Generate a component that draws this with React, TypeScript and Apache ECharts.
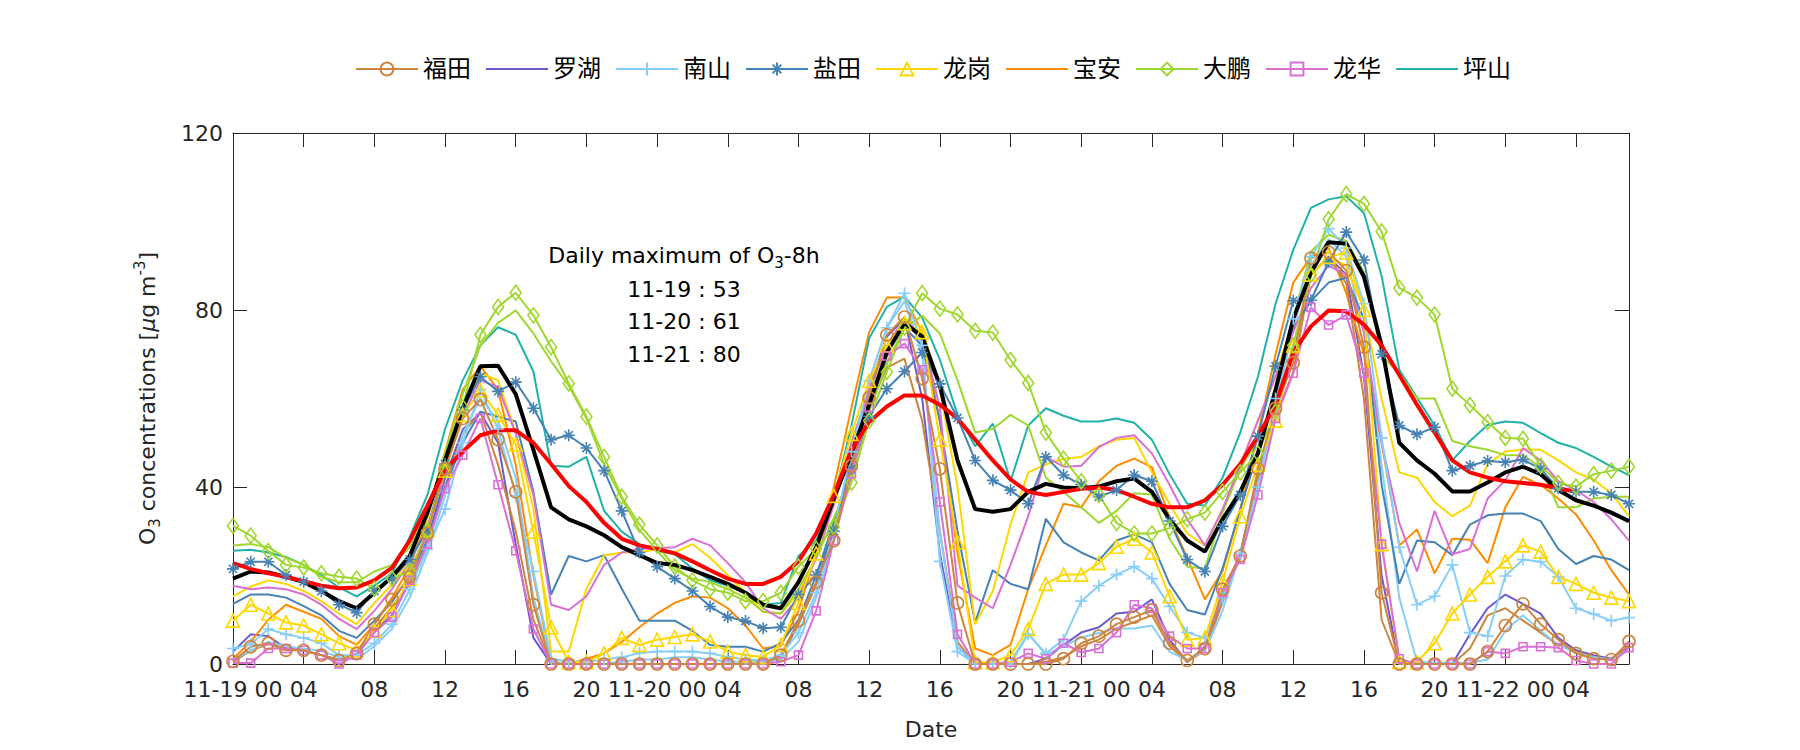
import React, { useEffect, useRef } from 'react';
import * as echarts from 'echarts';

const stations = ['福田', '罗湖', '南山', '盐田', '龙岗', '宝安', '大鹏', '龙华', '坪山'];
const xTickLabels = ['11-19 00', '04', '08', '12', '16', '20', '11-20 00', '04', '08', '12', '16', '20', '11-21 00', '04', '08', '12', '16', '20', '11-22 00', '04'];
const dailyMaxDates = ['11-19', '11-20', '11-21'];
const dailyMaxValues = [53, 61, 80];

const futianM = [0.6, 3.9, 4.7, 3.1, 3.1, 2, 0.8, 2.4, 9, 14.6,
  19.7, 29.5, 44.1, 55.5, 59.8, 50.7, 38.9, 13.4, 0, 0,
  0, 0, 0, 0, 0, 0, 0, 0, 0, 0,
  0, 2, 9.8, 18.5, 27.9, 44.8, 60.2, 74.4, 78.4, 64.5,
  44.1, 13.8, 0, 0, 0, 0, 0, 1.2, 4.7, 6.3,
  9, 10.6, 12.2, 4.7, 0.8, 3.5, 16.9, 24.4, 44.1, 57.8,
  68.1, 91.7, 93.1, 88.9, 71.6, 16.1, 0, 0, 0, 0,
  0, 2.8, 8.7, 13.6, 9, 5.5, 2.4, 1.2, 1, 5.1];
const futianP = [0.5, 3, 4.5, 4, 3, 2, 1, 2, 8, 13,
  18, 27, 40, 52, 57, 45, 30, 10, 0, 0,
  0, 0, 0, 0, 0, 0, 0, 0, 0, 0,
  0, 1.5, 9, 18, 28, 45, 58, 67, 69, 55,
  30, 5, 0, 0, 0, 0, 0.5, 1.5, 4, 5.5,
  8, 9.5, 11, 4, 0.5, 3, 14, 25, 42, 56,
  66, 88, 92, 86, 60, 10, 0, 0, 0, 0,
  3.5, 11, 12.6, 9.8, 7.1, 4.3, 2.8, 1.6, 0.8, 4.3];
const luohu = [2.8, 6.7, 6.3, 3.5, 3, 2, 0.8, 2, 7.5, 11,
  18.5, 28, 42, 53, 56.7, 50, 27, 5.9, 0, 0,
  0, 0, 0, 0, 0, 0, 0, 0, 0, 0,
  0, 1.5, 9, 18, 30, 46, 62, 74, 78, 60,
  25, 4, 0, 0, 0, 0, 1.2, 4.3, 7.1, 8.3,
  11.4, 11.8, 14.6, 5.5, 0.4, 3.9, 15, 25, 42, 58,
  70, 88, 92, 88, 65, 20, 0, 0, 0, 0,
  6.7, 12.6, 15.7, 13.6, 11.4, 5.9, 3.1, 2, 1.2, 3.9];
const nanshanM = [3.5, 4.5, 7.9, 6.7, 5.9, 4.7, 2, 2, 4.7, 9,
  16.9, 26, 35, 50, 62, 53.1, 38, 20.9, 1.2, 0.5,
  0.5, 1, 1.5, 2.5, 2.8, 2.8, 2.8, 2.4, 1.6, 1,
  0.8, 2, 7.1, 16.1, 30, 48, 64, 76, 83.8, 72,
  23.2, 2.8, 0, 0, 0, 6.7, 2.4, 5.5, 14.2, 17.7,
  20.2, 22, 19.3, 13, 7.1, 5.9, 15, 25, 40, 60,
  78, 92, 98.4, 94, 81.4, 51.1, 26.4, 13.4, 15.3, 22.4,
  7.1, 6.3, 19.9, 23.6, 23.1, 19.7, 12.6, 11.3, 9.8, 10.5];
const nanshanP = [1, 3, 5, 4, 3.5, 3, 1.5, 1, 4, 8,
  15, 25, 38, 52, 60, 55, 42, 15, 0.5, 0,
  0, 0, 0.5, 1, 1, 1.5, 1.5, 1, 0.5, 0.5,
  0.5, 1, 5, 15, 28, 46, 64, 76, 82, 70,
  30, 4, 0, 0, 0.5, 7, 2, 4, 6, 7,
  8, 8, 8.7, 2.8, 0.8, 3, 12, 25, 40, 58,
  76, 90, 96, 92, 75, 45, 15, 0.5, 0.3, 0.3,
  0.3, 1, 7.5, 11, 7.5, 4.3, 2.5, 1.5, 1, 3];
const yantianM = [21.5, 23.1, 23.1, 20.1, 18.6, 16.5, 13.4, 11.6, 16.5, 19.3,
  23.6, 30.3, 45.2, 57.4, 64.9, 61.6, 63.7, 57.8, 50.7, 51.7,
  48.8, 43.7, 34.6, 25.2, 22, 19.3, 16.5, 13, 10.6, 9.7,
  8.1, 8.3, 15.7, 20.1, 30, 44, 56, 62.2, 66.1, 70.4,
  63.3, 55.6, 46, 41.5, 39.3, 36.2, 46.8, 42.7, 40.5, 37.8,
  39.3, 42.7, 41.3, 32.3, 23.6, 20.9, 31.1, 38.2, 51.5, 67.3,
  82.1, 82.2, 90.9, 97.6, 91.3, 70, 53.9, 51.9, 53.5, 43.7,
  44.8, 45.9, 45.6, 46.2, 44.1, 39.7, 38.9, 38.9, 38.2, 36.2];
const yantianP = [13.6, 15.7, 15.7, 15, 13.1, 11, 7.5, 5.9, 9.8, 14,
  20, 28, 40, 50, 57, 55.9, 54.8, 38.9, 15.7, 24.4,
  23.2, 24.6, 17, 9.8, 9.8, 9.8, 7.5, 4.3, 3.9, 3.9,
  2.8, 4.7, 10, 20, 32, 45, 58, 68, 76, 72,
  55, 30, 9.4, 21.2, 18.1, 16.9, 32.8, 27.5, 25.2, 23.4,
  27.9, 29.3, 27.5, 18.1, 12.2, 11.2, 21.6, 35, 48, 62,
  76, 82, 86.2, 87.3, 78, 40.5, 18.1, 27.9, 27.5, 24.6,
  31.5, 33.6, 34, 34, 32.3, 26, 22.6, 24.4, 23.6, 21.2];
const longgangM = [9.8, 13.4, 11.4, 9.4, 8.7, 6.7, 4.7, 3.1, 7.5, 12.2,
  19.3, 30.3, 43.7, 56.3, 61.8, 56.3, 49.6, 29.9, 8.3, 0.4,
  0.4, 2.4, 5.9, 4.3, 5.5, 6.1, 6.7, 5.1, 2.8, 2,
  1.6, 4.3, 13.8, 25, 38, 52, 64, 72, 77, 75,
  50.7, 27.5, 0.4, 0.4, 2, 7.9, 18.1, 20.2, 20.2, 22.8,
  26.5, 28.3, 25.2, 15.3, 5.5, 5.9, 18.5, 33.4, 45, 55,
  72, 88, 92, 93, 80, 27.1, 0.5, 0.4, 4.7, 11.4,
  15.7, 19.7, 23.2, 26.8, 25.4, 19.7, 18.1, 16.1, 15, 14.2];
const longgangP = [15.3, 17.5, 18.9, 18.1, 16.5, 14.2, 11.4, 9, 13.8, 18,
  24, 33, 46, 58, 65.7, 64.1, 52.3, 35, 2.8, 2.8,
  17, 24.5, 25.2, 25.2, 26, 25.2, 27.1, 24, 20.1, 16.1,
  11.8, 11.4, 16, 24, 36, 50, 62, 72, 78, 76,
  62, 40, 9, 16.5, 31.5, 43.3, 45.1, 46.4, 46.8, 49.2,
  50.7, 51.1, 43.3, 36.2, 29.5, 26.8, 34.6, 45, 55, 65,
  78, 88, 92, 90, 80, 60, 43.3, 42.1, 36.6, 33.4,
  35.8, 45.2, 48, 48.5, 48.4, 46, 43.3, 41.7, 38.6, 33.4];
const baoan = [1.2, 5, 10, 13.4, 11.8, 10.2, 6.3, 4.3, 9, 15,
  22, 33, 48, 62, 67.3, 62, 45, 20, 0.5, 0,
  1.2, 2.4, 5, 8.3, 11.4, 13.8, 15.3, 15, 12.6, 8.7,
  3.5, 4, 12, 25, 40, 58, 75, 82.8, 82.8, 75,
  55, 25, 3.5, 2, 4.3, 16.9, 26.8, 36.2, 35.4, 41.3,
  44.8, 46.4, 44.5, 33, 24, 14.6, 21, 35, 52, 70,
  86.2, 92, 94, 83.8, 70, 50, 26.8, 30.4, 20.5, 28.3,
  28.1, 22.8, 35.4, 42.3, 40.5, 37.4, 33.8, 27.9, 21.2, 15.7];
const dapengM = [31.2, 29, 25.5, 22.4, 21.8, 20.5, 19.7, 19.3, 17, 19.3,
  21, 30, 44, 58, 74.4, 80.7, 83.9, 78.8, 71.6, 63.4,
  55.9, 46.8, 37.8, 31.5, 26.8, 22, 18.9, 16.9, 16.1, 14.2,
  14.2, 16.1, 22, 26, 31, 41, 55, 66, 76, 83.8,
  80.3, 79, 75.3, 74.9, 68.7, 63.5, 52.3, 46.4, 41.3, 38.2,
  31.9, 29.5, 29.5, 30.7, 32.7, 34.2, 38.9, 43.3, 47.6, 57,
  72, 88, 100.5, 106.2, 104, 97.7, 85, 82.8, 79, 62.2,
  58.5, 54.7, 51.1, 50.9, 44.8, 40.9, 40.1, 42.9, 43.7, 44.6];
const dapengP = [26.8, 27.1, 26.4, 24, 22.4, 19.7, 18.5, 18.5, 20.9, 22.4,
  26.4, 34.2, 47.6, 61, 72, 77.1, 79.9, 74.7, 68.4, 62.9,
  55.5, 45.2, 37.4, 30.3, 25.6, 21.2, 19.3, 18.5, 16.9, 15,
  11.8, 11.4, 17, 24, 33, 42, 57, 68, 76, 78.7,
  74.7, 64.1, 52.3, 53.1, 56.3, 53.9, 42.1, 38.9, 35.4, 31.9,
  34.6, 38.6, 38.3, 28.3, 22, 21.6, 34.2, 44.1, 50.7, 60,
  78, 93.2, 97, 95.6, 88.5, 69.6, 65.7, 60, 60, 50.4,
  49.2, 48.4, 47.2, 47.2, 44.5, 35.4, 35.4, 37.4, 37.8, 37.8];
const longhuaM = [0.2, 0.2, 3.5, 3.5, 3.1, 2, 0, 2, 7.1, 10.6,
  18.9, 27.1, 39.6, 47.2, 55.5, 40.5, 25.6, 7.9, 0, 0,
  0, 0, 0, 0, 0, 0, 0, 0, 0, 0,
  0, 0.5, 2, 12, 27.9, 43, 58, 69.6, 72.4, 66.5,
  36.6, 6.7, 0, 0, 0.4, 2.4, 1.2, 4.7, 2.6, 3.5,
  7.1, 13.4, 12.6, 6.3, 3.5, 3.5, 16.1, 23.6, 38.2, 55.5,
  65.7, 80.6, 76.6, 78.9, 65.7, 27.1, 1.2, 0, 0, 0,
  0, 2.8, 2.4, 3.9, 3.9, 3.7, 0.8, 0, 0, 3.7];
const longhuaP = [17.7, 16.9, 17.3, 16.9, 15.7, 13.4, 10.2, 7.9, 12, 17,
  23, 31, 44, 56, 64.1, 62.6, 52, 38.2, 13.4, 12.2,
  15.3, 22.4, 25.2, 26, 26.2, 26.4, 28.3, 26.8, 22.8, 18.5,
  12.6, 10.2, 15, 24, 36, 50, 62, 72, 78, 74,
  58, 17.7, 15, 12.6, 22.4, 33.4, 46.8, 44.6, 44.8, 49,
  51.1, 51.7, 47.6, 40.5, 32.7, 26.8, 35, 45, 55, 65,
  75, 85, 90, 88, 75, 50, 31.9, 20.9, 34.6, 24.8,
  26, 37.4, 41.5, 48.8, 46, 41.3, 39.3, 36.6, 32.7, 27.9];
const pingshan = [25.6, 25.8, 25.2, 24.2, 22.4, 20.1, 17.3, 15.3, 17.7, 20.5,
  28.7, 38.2, 53.1, 64.1, 72, 76.1, 74.4, 66.1, 44.8, 44.6,
  46.8, 34.6, 29.9, 27.1, 25.6, 24.8, 21.6, 18.9, 17.7, 16.1,
  13.4, 13.8, 24.4, 27.9, 37.4, 53.9, 73.6, 80.7, 83, 78.3,
  68.8, 56.3, 49.2, 54.3, 41.3, 53.9, 57.8, 56.1, 54.8, 54.8,
  55.5, 54.5, 50.7, 42.9, 36.2, 35.8, 42.1, 52.3, 64.9, 81.4,
  93.6, 103.1, 105, 105.7, 101.9, 87.7, 66.5, 60.2, 53.9, 46,
  50.4, 54, 54.8, 54.5, 52.2, 50, 48.8, 46.8, 44.6, 42.7];
const hourlyMean = [19.3, 20.9, 20.7, 19.7, 18.5, 16.5, 14.2, 12.6, 16.1, 19.7,
  24.4, 34.2, 46, 57.8, 67.3, 67.4, 61, 48.4, 35.4, 32.7,
  31.1, 29.1, 26.4, 24.6, 22.8, 22.4, 21.2, 19.7, 18.1, 16.1,
  13.4, 12.6, 18.5, 26.4, 37.4, 47.6, 58.6, 70.4, 77.1, 74,
  63, 46, 35, 34.4, 35, 38.9, 40.7, 39.9, 39.7, 40.1,
  41.3, 41.9, 38.9, 32.7, 27.9, 25.4, 32.7, 38.9, 47.6, 62,
  78, 88.5, 95.3, 95, 87.5, 72, 50, 46, 43, 39,
  39, 41, 43.3, 44.6, 42.9, 39.3, 37, 35.8, 34.2, 32.3];
const o3Moving8h = [22.8, 21.5, 20.5, 19.7, 18.7, 17.7, 17.1, 17.3, 18.9, 21.8,
  27.9, 35.8, 44, 48, 51.7, 52.8, 52.8, 50, 45.2, 40.2,
  36.6, 31.9, 28.3, 26.8, 26, 25, 23.2, 21.2, 19.3, 18.1,
  18.1, 19.7, 23.2, 29.5, 38.2, 48.4, 54.7, 58.2, 60.7, 60.7,
  58.6, 55.5, 50.7, 46, 41.7, 38.9, 38.2, 38.9, 39.6, 39.9,
  39.3, 37.8, 36.2, 35.4, 35.4, 37, 40.5, 45.2, 51.5, 58.6,
  70.4, 76.3, 79.9, 79.7, 76.7, 72, 65.3, 58.6, 52.3, 46,
  43.3, 42.1, 41.3, 40.9, 40.5, 39.7, 38.9];

const FONT = "'DejaVu Sans', 'Noto Sans CJK SC', sans-serif";
const INK = '#262626';
const COL = {
  ft: '#CD853F', lh: '#6A5ACD', ns: '#87CEFA', yt: '#4682B4', lg: '#FFD700',
  ba: '#FF8C00', dp: '#9FD72F', lhua: '#DA70D6', ps: '#20B2AA',
};
const PLUS = 'path://M5,0L5,10M0,5L10,5';
const STAR = 'path://M5,0L5,10M0,5L10,5M1.6,1.6L8.4,8.4M8.4,1.6L1.6,8.4';

function mk(name: string, data: number[], color: string, symbol: string, size: any, width = 2) {
  const hasSym = symbol !== 'none';
  return {
    name,
    type: 'line',
    data: data.map((v, i) => [i, v]),
    symbol,
    symbolSize: size,
    showSymbol: hasSym,
    lineStyle: { color, width },
    itemStyle: { color: 'rgba(0,0,0,0)', borderColor: color, borderWidth: hasSym ? 1.6 : 0 },
    emphasis: { disabled: true },
    silent: true,
    clip: true,
  };
}

const richBase = {
  n: { fontSize: 22, fontFamily: FONT, lineHeight: 30 },
  s: { fontSize: 15, fontFamily: FONT, lineHeight: 15, verticalAlign: 'bottom' },
  p: { fontSize: 15, fontFamily: FONT, lineHeight: 15, verticalAlign: 'top' },
  i: { fontSize: 22, fontFamily: FONT, fontStyle: 'italic', lineHeight: 30 },
};

export default function App() {
  const ref = useRef<HTMLDivElement>(null);
  useEffect(() => {
    const chart = echarts.init(ref.current!, null, { renderer: 'svg' });
    const series: any[] = [
      mk('罗湖', luohu, COL.lh, 'none', 0),
      mk('宝安', baoan, COL.ba, 'none', 0),
      mk('坪山', pingshan, COL.ps, 'none', 0),
      mk('福田 plain', futianP, COL.ft, 'none', 0),
      mk('南山 plain', nanshanP, COL.ns, 'none', 0),
      mk('盐田 plain', yantianP, COL.yt, 'none', 0),
      mk('龙岗 plain', longgangP, COL.lg, 'none', 0),
      mk('大鹏 plain', dapengP, COL.dp, 'none', 0),
      mk('龙华 plain', longhuaP, COL.lhua, 'none', 0),
      mk('南山', nanshanM, COL.ns, PLUS, 12),
      mk('盐田', yantianM, COL.yt, STAR, 12),
      mk('龙岗', longgangM, COL.lg, 'triangle', 13),
      mk('大鹏', dapengM, COL.dp, 'diamond', [11, 15]),
      mk('龙华', longhuaM, COL.lhua, 'rect', 8),
      mk('福田', futianM, COL.ft, 'circle', 12),
      mk('hourly mean', hourlyMean, '#000000', 'none', 0, 4),
      mk('O3-8h', o3Moving8h, '#FF0000', 'none', 0, 4),
    ];
    const axisLine = { show: true, onZero: false, lineStyle: { color: INK, width: 1 } };
    const mkTick = () => ({ show: true, inside: true, length: 14, lineStyle: { color: INK, width: 1 } });
    const labelStyle = { fontSize: 22, color: INK, fontFamily: FONT };
    chart.setOption({
      animation: false,
      backgroundColor: '#ffffff',
      textStyle: { fontFamily: FONT },
      grid: { left: 233, right: 171, top: 133, bottom: 86, containLabel: false },
      legend: {
        data: stations,
        left: 355,
        top: 57,
        padding: 0,
        itemWidth: 62,
        itemHeight: 16,
        itemGap: 14,
        selectedMode: false,
        textStyle: { fontSize: 24, color: '#000', fontFamily: FONT },
      },
      xAxis: [
        {
          type: 'value', min: 0, max: 79, interval: 4, position: 'bottom',
          axisLine, axisTick: mkTick(), splitLine: { show: false },
          axisLabel: {
            ...labelStyle, margin: 14, showMaxLabel: false,
            formatter: (v: number) => (v % 4 === 0 && v / 4 < xTickLabels.length ? xTickLabels[v / 4] : ''),
          },
          name: 'Date', nameLocation: 'middle', nameGap: 54,
          nameTextStyle: { ...labelStyle },
        },
        {
          type: 'value', min: 0, max: 79, interval: 4, position: 'top',
          axisLine, axisTick: mkTick(), splitLine: { show: false }, axisLabel: { show: false },
        },
      ],
      yAxis: [
        {
          type: 'value', min: 0, max: 120, interval: 40, position: 'left',
          axisLine, axisTick: mkTick(), splitLine: { show: false },
          axisLabel: { ...labelStyle, margin: 10 },
          name: '{n|O}{s|3}{n| concentrations [}{i|μ}{n|g m}{p|-3}{n|]}',
          nameLocation: 'middle', nameGap: 71,
          nameTextStyle: { color: INK, fontSize: 22, fontFamily: FONT, rich: richBase },
        },
        {
          type: 'value', min: 0, max: 120, interval: 40, position: 'right',
          axisLine, axisTick: mkTick(), splitLine: { show: false }, axisLabel: { show: false },
        },
      ],
      graphic: [
        {
          type: 'text', x: 684, y: 255, silent: true,
          style: {
            text: '{n|Daily maximum of O}{s|3}{n|-8h}', rich: richBase,
            fill: '#000', align: 'center', verticalAlign: 'middle', fontSize: 22, fontFamily: FONT,
          },
        },
        ...dailyMaxDates.map((d, k) => ({
          type: 'text', x: 684, y: 289 + k * 32.5, silent: true,
          style: {
            text: `${d} : ${dailyMaxValues[k]}`, fill: '#000', align: 'center', verticalAlign: 'middle',
            fontSize: 22, fontFamily: FONT,
          },
        })),
      ],
      series,
    });
    return () => chart.dispose();
  }, []);
  return <div ref={ref} style={{ position: 'fixed', left: 0, top: 0, width: 1800, height: 750 }} />;
}
